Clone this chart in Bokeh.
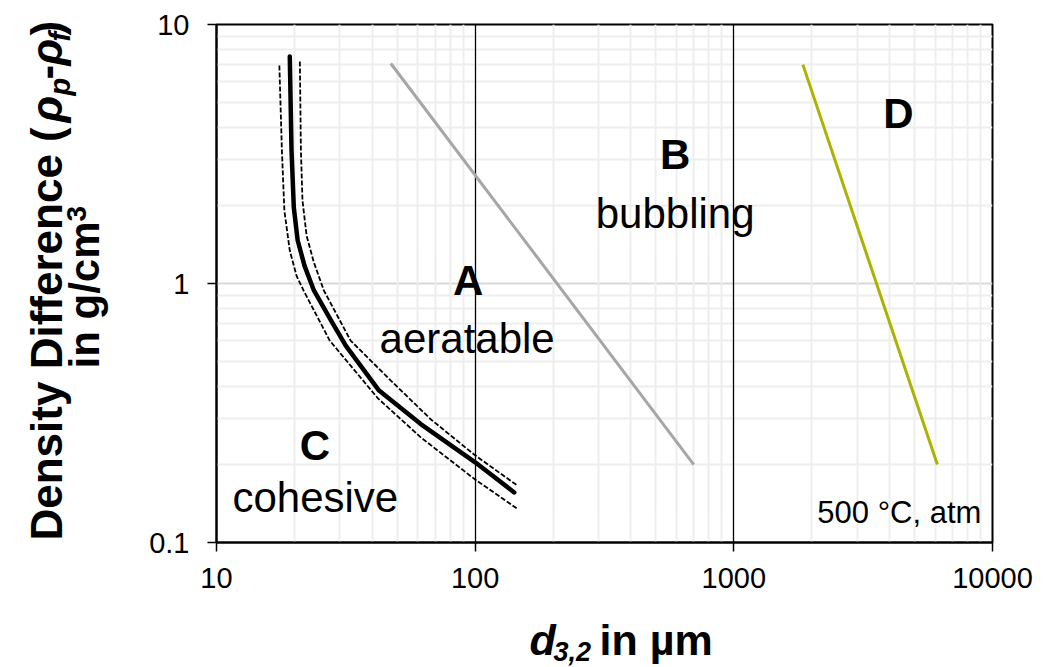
import math
from bokeh.plotting import figure
from bokeh.models import FixedTicker, CustomJSTickFormatter, Label
from bokeh.core.properties import value
from bokeh.embed import file_html
from bokeh.resources import INLINE

# ---------------- data ----------------
x_ticks = [10, 100, 1000, 10000]
x_tick_labels = ["10", "100", "1000", "10000"]
y_ticks = [0.1, 1, 10]
y_tick_labels = ["0.1", "1", "10"]

ca_x = [19.2, 19.5, 19.9, 20.6, 21.9, 23.8, 27.7, 31.6, 42.5, 61.8, 100, 141.6]
ca_y = [7.52, 3.26, 1.965, 1.466, 1.17, 0.94, 0.72, 0.576, 0.386, 0.286, 0.204, 0.156]
ca_upper_x = [21.0, 21.2, 21.5, 22.3, 23.8, 26.0, 33.0, 47.2, 67.5, 100, 145.5]
ca_upper_y = [7.2, 3.26, 2.09, 1.53, 1.205, 0.94, 0.602, 0.422, 0.2985, 0.217, 0.166]
ca_lower_x = [17.5, 17.9, 18.3, 19.2, 20.4, 21.7, 27.4, 42.1, 61.8, 100, 145.5]
ca_lower_y = [6.95, 3.26, 1.91, 1.34, 1.07, 0.94, 0.602, 0.36, 0.254, 0.175, 0.135]

ab_x = [47.2, 700]
ab_y = [7.07, 0.2]
bd_x = [1849, 6120]
bd_y = [7.0, 0.2]

group_letters = ["A", "B", "C", "D"]
group_letter_x = [94, 593, 24.0, 4325]
group_letter_y = [0.891, 2.73, 0.2056, 3.96]
group_names = ["aeratable", "bubbling", "cohesive"]
group_name_x = [93.1, 593, 24.1]
group_name_y = [0.532, 1.616, 0.1294]
condition_text = ["500 °C, atm"]
condition_x = [9057]
condition_y = [0.1184]

x_minor = [m * 10 ** k for k in (1, 2, 3) for m in range(2, 10)]
y_minor = [m * 10 ** k for k in (-1, 0) for m in range(2, 10)]

FONT = "Liberation Sans"
BASE_SHIFT = 0.37  # svg alphabetic-baseline compensation (fraction of font size)

p = figure(x_axis_type="log", y_axis_type="log",
           x_range=(10, 10000), y_range=(0.1, 10),
           frame_width=776, frame_height=518,
           min_border_left=216, min_border_right=71,
           min_border_top=24, min_border_bottom=125,
           output_backend="svg", toolbar_location=None,
           background_fill_color="white", border_fill_color="white")

p.xgrid.ticker = FixedTicker(ticks=x_ticks, minor_ticks=x_minor)
p.ygrid.ticker = FixedTicker(ticks=y_ticks, minor_ticks=y_minor)
p.xgrid.grid_line_color = "black"
p.xgrid.grid_line_width = 1.3
p.xgrid.minor_grid_line_color = "#eeeeee"
p.xgrid.minor_grid_line_width = 2
p.ygrid.grid_line_color = "#d9d9d9"
p.ygrid.grid_line_width = 2
p.ygrid.minor_grid_line_color = "#eeeeee"
p.ygrid.minor_grid_line_width = 2
p.ygrid.level = "image"

p.xaxis.ticker = FixedTicker(ticks=x_ticks)
p.yaxis.ticker = FixedTicker(ticks=y_ticks)
fmt_code = """
const i = vals.findIndex(v => Math.abs(v - tick) <= 1e-9 * Math.abs(v));
return i >= 0 ? labs[i] : "";
"""
p.xaxis.formatter = CustomJSTickFormatter(args=dict(vals=x_ticks, labs=x_tick_labels), code=fmt_code)
p.yaxis.formatter = CustomJSTickFormatter(args=dict(vals=y_ticks, labs=y_tick_labels), code=fmt_code)
for ax in (p.xaxis[0], p.yaxis[0]):
    ax.axis_line_color = "black"
    ax.axis_line_width = 2
    ax.major_tick_line_color = "black"
    ax.major_tick_line_width = 1.5
    ax.major_tick_out = 9
    ax.major_tick_in = 0
    ax.minor_tick_line_color = None
    ax.major_label_text_font = FONT
    ax.major_label_text_font_size = "29px"
    ax.major_label_text_color = "black"
p.xaxis.major_label_standoff = 16
p.yaxis.major_label_standoff = 18

p.outline_line_color = "black"
p.outline_line_width = 2

p.line(ca_lower_x, ca_lower_y, line_color="black", line_width=1.8, line_dash="5 2")
p.line(ca_upper_x, ca_upper_y, line_color="black", line_width=1.8, line_dash="5 2")
p.line(ca_x, ca_y, line_color="black", line_width=4.5, line_cap="round", line_join="round")
p.line(ab_x, ab_y, line_color="#a6a6a6", line_width=3)
p.line(bd_x, bd_y, line_color="#aab400", line_width=3)

p.text(x=group_letter_x, y=group_letter_y, text=group_letters,
       text_font=value(FONT), text_font_size="42px", text_font_style="bold",
       text_align="center", text_baseline="alphabetic", text_color="black",
       y_offset=-BASE_SHIFT * 42)
p.text(x=group_name_x, y=group_name_y, text=group_names,
       text_font=value(FONT), text_font_size="42px",
       text_align="center", text_baseline="alphabetic", text_color="black",
       y_offset=-BASE_SHIFT * 42)
p.text(x=condition_x, y=condition_y, text=condition_text,
       text_font=value(FONT), text_font_size="31px",
       text_align="right", text_baseline="alphabetic", text_color="black",
       y_offset=-BASE_SHIFT * 31)

# axis titles: canvas-positioned Labels placed in the bottom side panel
# (side-panel annotations are not clipped to the frame; the panel grows below the view only)
def piece(txt, cx, cy, size, style, rotated=False):
    s = BASE_SHIFT * size
    if rotated:
        cx, ang = cx - s, math.pi / 2
    else:
        cy, ang = cy - s, 0.0
    p.add_layout(Label(x=cx, y=cy, x_units="canvas", y_units="canvas", text=txt,
                       text_font=FONT, text_font_size=f"{size}px", text_font_style=style,
                       text_color="black", text_align="left", text_baseline="alphabetic",
                       angle=ang), "below")

# x title: d_{3,2} in µm
piece("d", 529, 655, 43, "bold italic")
piece("3,2", 553, 661, 27, "bold italic")
piece("in µm", 599, 655, 43, "bold")

# y title line 1: Density Difference (ρ_p-ρ_f)
piece("Density Difference (", 62, 540, 44, "bold", True)
piece("ρ", 62, 122, 44, "bold italic", True)
piece("p", 70, 95, 29, "bold italic", True)
piece("-", 62, 79, 44, "bold", True)
piece("ρ", 62, 65, 44, "bold italic", True)
piece("f", 70, 41, 29, "bold italic", True)
piece(")", 62, 35, 44, "bold", True)
# y title line 2: in g/cm³
piece("in g/cm", 100, 368, 42, "bold", True)
piece("3", 86, 221, 28, "bold", True)

open("out.html", "w").write(file_html(p, INLINE))
